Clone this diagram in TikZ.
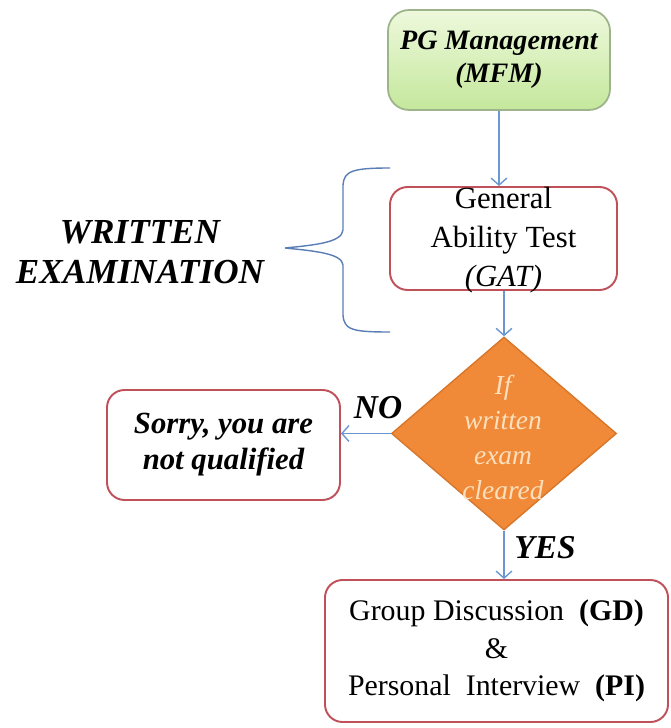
\documentclass[tikz,border=0pt]{standalone}
\usepackage{fontspec}
\setmainfont{Liberation Serif}
\usepackage{xcolor}
\usetikzlibrary{shapes.geometric,arrows.meta}
\definecolor{boxred}{HTML}{C0505A}
\definecolor{linkblue}{HTML}{6A97D2}
\definecolor{braceblue}{HTML}{5A7DB5}
\definecolor{greentop}{HTML}{EEF9DC}
\definecolor{greenbot}{HTML}{C4E79C}
\definecolor{greenline}{HTML}{9DB38A}
\definecolor{decorange}{HTML}{F08A38}
\definecolor{decline}{HTML}{D8762A}
\definecolor{dectext}{HTML}{FCE0BE}

\begin{document}
\begin{tikzpicture}[
	box/.style={draw=boxred, line width=1.1pt, rounded corners=10pt, fill=white, inner sep=0pt},
	link/.style={draw=linkblue, line width=0.8pt, -{Straight Barb[length=4pt,width=9pt]}},
	tag/.style={font=\fontsize{19}{22}\selectfont\bfseries\itshape}
]
	\useasboundingbox (0,0) rectangle (13.4,-14.56);
	% boxes of the flow
	\node	(mfm) at (9.98,-1.2) [draw=greenline, line width=1pt, rounded corners=12pt, top color=greentop, bottom color=greenbot, minimum width=4.44cm, minimum height=2cm, align=center, font=\fontsize{16}{18.7}\selectfont\bfseries\itshape] {PG Management\\(MFM)};
	\node	(gat) at (10.07,-4.77) [box, minimum width=4.54cm, minimum height=2.06cm] {};
	\node	(gattext) at (10.07,-4.8) [align=center, font=\fontsize{17.5}{22}\selectfont] {General\\Ability Test\\\textit{(GAT)}};
	\node	(dec) at (10.08,-8.67) [diamond, draw=decline, line width=0.8pt, fill=decorange, minimum width=4.5cm, minimum height=3.86cm, inner sep=0pt] {};
	\node	(dectxt) at (10.06,-8.75) [align=center, text=dectext, font=\fontsize{15.6}{19.9}\selectfont\itshape] {If\\written\\exam\\cleared};
	\node	(sorry) at (4.47,-8.9) [box, minimum width=4.66cm, minimum height=2.2cm, align=center, font=\fontsize{17.5}{20.5}\selectfont\bfseries\itshape] {Sorry, you are\\not qualified};
	\node	(gd) at (9.93,-13.02) [box, minimum width=6.86cm, minimum height=2.84cm, align=center, font=\fontsize{17}{21.3}\selectfont] {Group Discussion\ \ \textbf{(GD)}\\\&\\Personal\ \ Interview\ \ \textbf{(PI)}};
	% labels
	\node	(written) at (2.8,-5.04) [align=center, font=\fontsize{20}{22.7}\selectfont\bfseries\itshape] {WRITTEN\\EXAMINATION};
	\node	(no) at (7.56,-8.16) [tag] {NO};
	\node	(yes) at (10.9,-10.96) [tag] {YES};
	% brace
	\draw[braceblue, line width=0.8pt] (7.8,-3.36) .. controls (7.05,-3.36) and (6.88,-3.42) .. (6.86,-3.7) -- (6.86,-4.6) .. controls (6.84,-4.85) and (6.3,-4.9) .. (5.7,-4.96) .. controls (6.3,-5.02) and (6.84,-5.07) .. (6.86,-5.3) -- (6.86,-6.3) .. controls (6.88,-6.6) and (7.05,-6.64) .. (7.8,-6.64);
	\draw
	(mfm.south) edge[link] (mfm.south |- gat.north)
	(gat.south -| dec.north) edge[link] (dec.north)
	(dec.west) edge[link] (dec.west -| sorry.east)
	(dec.south) edge[link] (dec.south |- gd.north)
	;
\end{tikzpicture}
\end{document}
